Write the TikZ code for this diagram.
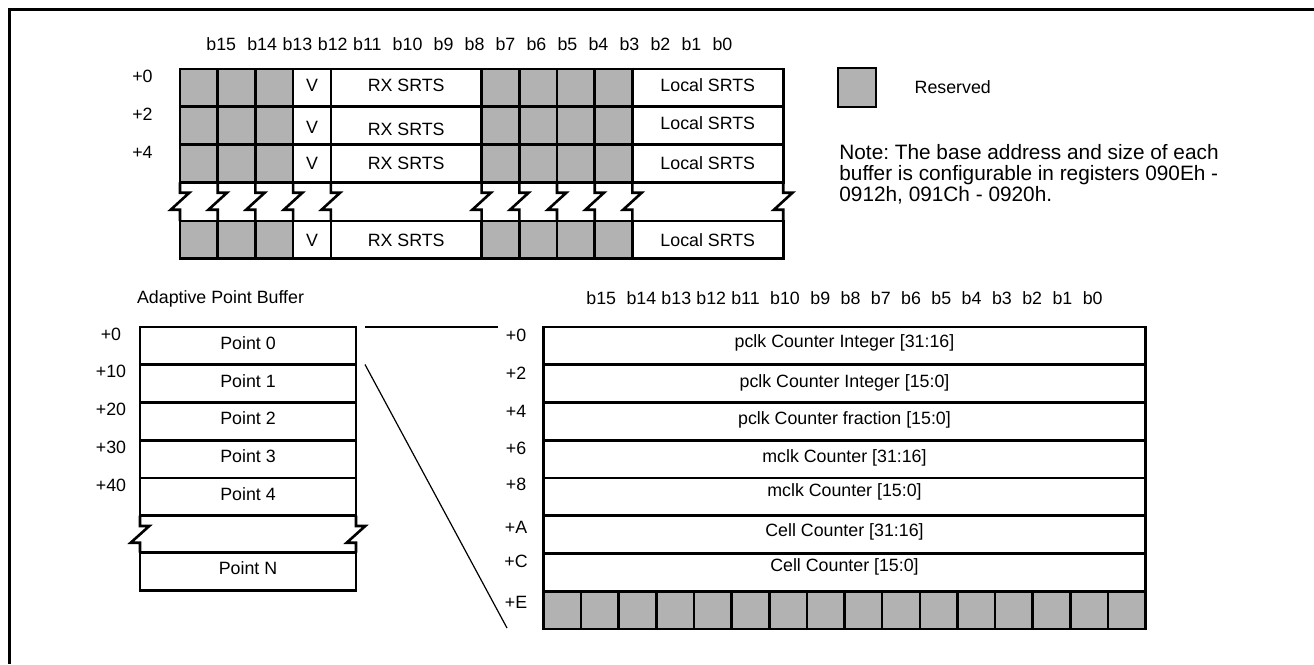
\documentclass[tikz,border=0pt]{standalone}
\usepackage{fontspec}
\setmainfont{Liberation Sans}
\usepackage{xcolor}
\usetikzlibrary{positioning}
\frenchspacing
\definecolor{rsvgray}{RGB}{178,178,178}
\tikzstyle{txt}=[inner sep=0pt, font=\fontsize{8.9}{10.7}\selectfont]
\tikzstyle{rsv}=[draw=black, fill=rsvgray, line width=1.3pt]
\tikzstyle{fld}=[draw=black, line width=1.3pt]
\tikzstyle{brk}=[draw=black, line width=1.3pt, line join=miter]

\begin{document}
\begin{tikzpicture}[x=0.5pt, y=-0.5pt]
  \useasboundingbox (0,0) rectangle (1314,665);
  \draw[line width=1.5pt] (9,664) -- (9,9) -- (1314,9);

  % SRTS table
  \node[txt, anchor=west] (tbits) at (206,44)
    {\spaceskip=2.8pt b15~ b14 b13 b12 b11~ b10~ b9~ b8~ b7~ b6~ b5~ b4~ b3~ b2~ b1~ b0};
  \foreach \r/\y/\dv/\dr/\dl in {0/69/-3/-3/-3, 1/106.75/2/4/-3, 2/144.5/0/0/0, 3/221/0/0/0} {
    \foreach \i in {0,1,2,8,9,10,11}
      \draw[rsv] ({180+\i*37.7},\y) rectangle ++(37.7,37.75);
    \draw[fld] ({180+3*37.7},\y) rectangle ++(37.7,37.75);
    \draw[fld] ({180+4*37.7},\y) rectangle ++(4*37.7,37.75);
    \draw[fld] ({180+12*37.7},\y) rectangle ++(4*37.7,37.75);
    \node[txt] (v\r) at ({180+3.5*37.7},{\y+18.9+\dv}) {V};
    \node[txt] (rx\r) at ({180+6*37.7},{\y+18.9+\dr}) {RX SRTS};
    \node[txt] (loc\r) at ({180+14*37.7},{\y+18.9+\dl}) {Local SRTS};
  }
  \foreach \i in {0,1,2,3,4,8,9,10,11,12,16}
    \draw[brk] ({180+\i*37.7},182.25) -- ++(0,10.5) -- ++(9.3,0) -- ++(-18.6,17)
      -- ++(9.3,0) -- ({180+\i*37.7},221);
  \node[txt] (toff0) at (142.5,76.7) {+0};
  \node[txt] (toff2) at (142.5,114.5) {+2};
  \node[txt] (toff4) at (142.5,152) {+4};

  \node[rsv, minimum width=19pt, minimum height=19.5pt, inner sep=0pt] (rsvbox) at (857,87.5) {};
  \node[txt, right=18.5pt of rsvbox] (rsvlbl) {Reserved};
  \node[txt, font=\fontsize{10.4}{10.5}\selectfont, anchor=north west, align=left] (note)
    at (839,144.5) {Note: The base address and size of each\\
    buffer is configurable in registers 090Eh -\\0912h, 091Ch - 0920h.};

  % point buffer
  \node[txt, anchor=west] (buftitle) at (136.7,299) {Adaptive Point Buffer};
  \foreach \k/\y/\lab in {0/327/+0, 1/364.74/+10, 2/402.48/+20, 3/440.22/+30, 4/477.96/+40} {
    \draw[fld] (140,\y) rectangle ({356},{\y+37.74});
    \node[txt] (pt\k) at (248,{\y+15.9}) {Point \k};
    \node[txt] (poff\k) at (111,{\y+7}) {\lab};
  }
  \foreach \x in {140,356}
    \draw[brk] (\x,515.7) -- ++(0,10.3) -- ++(9.3,0) -- ++(-18.6,16.7) -- ++(9.3,0) -- (\x,552.7);
  \draw[fld] (140,552.7) rectangle (356,590.5);
  \node[txt] (ptN) at (248,568) {Point N};

  % counter block
  \node[txt, anchor=west] (bbits) at (586,298)
    {\spaceskip=2.62pt b15~ b14 b13 b12 b11~ b10~ b9~ b8~ b7~ b6~ b5~ b4~ b3~ b2~ b1~ b0};
  \foreach \k/\y in {0/327, 1/364.75, 2/402.5, 3/440.25, 4/478, 5/515.75, 6/553.5}
    \draw[fld] (543.3,\y) rectangle ({1145.7},{\y+37.75});
  \foreach \i in {0,...,15}
    \draw[rsv] ({543.3+\i*37.65},591.25) rectangle ++(37.65,37.75);
  \node[txt] (cnt0) at (844.5,343.3) {pclk Counter Integer [31:16]};
  \node[txt] (cnt1) at (844.5,382.5) {pclk Counter Integer [15:0]};
  \node[txt] (cnt2) at (844.5,420) {pclk Counter fraction [15:0]};
  \node[txt] (cnt3) at (844.5,457.5) {mclk Counter [31:16]};
  \node[txt] (cnt4) at (844.5,491.7) {mclk Counter [15:0]};
  \node[txt] (cnt5) at (844.5,531.7) {Cell Counter [31:16]};
  \node[txt] (cnt6) at (844.5,566.7) {Cell Counter [15:0]};
  \foreach \k/\y/\lab in {0/335/+0, 1/373/+2, 2/411.7/+4, 3/448/+6, 4/484/+8,
      5/527.5/+A, 6/561/+C, 7/602.5/+E}
    \node[txt] (coff\k) at (516,\y) {\lab};

  \coordinate (zoomA) at (365,327);
  \coordinate (zoomB) at (498,327);
  \coordinate (zoomC) at (365,364.5);
  \coordinate (zoomD) at (507,628);
  \draw[line width=1.3pt] (zoomA) -- (zoomB);
  \draw[line width=0.6pt] (zoomC) -- (zoomD);
\end{tikzpicture}
\end{document}
